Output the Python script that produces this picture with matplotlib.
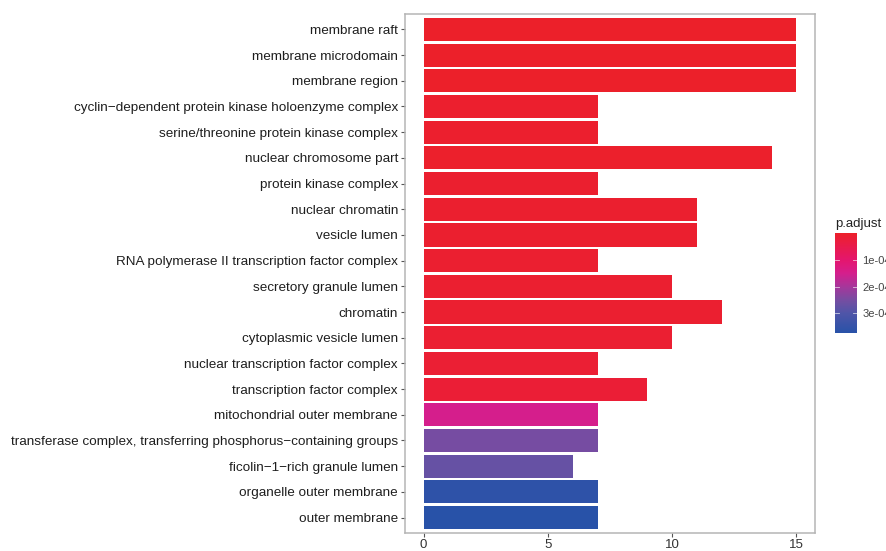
import numpy as np
import matplotlib
matplotlib.use("Agg")
import matplotlib.pyplot as plt
from matplotlib.colors import LinearSegmentedColormap, Normalize
from matplotlib.colorbar import ColorbarBase

plt.rcParams['font.family'] = ['Liberation Sans', 'DejaVu Sans']

terms = [
    "membrane raft",
    "membrane microdomain",
    "membrane region",
    "cyclin\u2212dependent protein kinase holoenzyme complex",
    "serine/threonine protein kinase complex",
    "nuclear chromosome part",
    "protein kinase complex",
    "nuclear chromatin",
    "vesicle lumen",
    "RNA polymerase II transcription factor complex",
    "secretory granule lumen",
    "chromatin",
    "cytoplasmic vesicle lumen",
    "nuclear transcription factor complex",
    "transcription factor complex",
    "mitochondrial outer membrane",
    "transferase complex, transferring phosphorus\u2212containing groups",
    "ficolin\u22121\u2212rich granule lumen",
    "organelle outer membrane",
    "outer membrane",
]
counts = [15, 15, 15, 7, 7, 14, 7, 11, 11, 7, 10, 12, 10, 7, 9, 7, 7, 6, 7, 7]
padj = [1e-6, 1e-6, 1e-6, 6e-6, 6e-6, 4e-6, 8e-6, 8e-6, 8e-6, 1e-5,
        1e-5, 1e-5, 1.2e-5, 1.5e-5, 1.8e-5, 1.5e-4, 2.5e-4, 2.7e-4, 3.6e-4, 3.72e-4]
cb_ticks = [1e-4, 2e-4, 3e-4]
cb_labels = ["1e-04", "2e-04", "3e-04"]

# red -> magenta -> purple -> blue, as it looks in the picture
grad = [(0.0, (236, 32, 42)), (0.27, (228, 22, 110)), (0.4, (213, 30, 140)),
        (0.54, (165, 55, 155)), (0.68, (115, 78, 162)), (0.8, (80, 85, 168)),
        (1.0, (40, 82, 168))]
cmap = LinearSegmentedColormap.from_list(
    "padj", [(t, tuple(v / 255 for v in c)) for t, c in grad])
norm = Normalize(vmin=0, vmax=3.73e-4)

fig = plt.figure(figsize=(8.86, 5.51), dpi=100)
ax = fig.add_axes([0.457, 0.0327, 0.463, 0.9419])

y = np.arange(len(terms))
ax.barh(y, counts, height=0.9, color=cmap(norm(np.array(padj))), edgecolor='none')
ax.set_ylim(len(terms) - 0.4, -0.6)
ax.set_xlim(-0.75, 15.75)
ax.set_yticks(y)
ax.set_yticklabels(terms, fontsize=9.7, color='#1e1e1e')
ax.set_xticks([0, 5, 10, 15])
ax.set_xticklabels(["0", "5", "10", "15"], fontsize=9.5, color='#333333')
ax.tick_params(axis='y', length=3, width=0.8, color='#555555', pad=2)
ax.tick_params(axis='x', length=3, width=0.8, color='#555555', pad=1.5)
for s in ax.spines.values():
    s.set_color('#b5b5b5')
    s.set_linewidth(1.1)

# colour bar of the legend (its labels run off the right edge, as in the source)
cax = fig.add_axes([0.9424, 0.3956, 0.0248, 0.1815])
cb = ColorbarBase(cax, cmap=cmap, norm=norm, orientation='vertical')
cax.invert_yaxis()
cb.set_ticks(cb_ticks)
cb.set_ticklabels(cb_labels)
cb.outline.set_visible(False)
cax.tick_params(length=0, labelsize=8, labelcolor='#444444', pad=4)
for t in cb_ticks:
    cax.axhline(t, xmin=0, xmax=0.2, color='white', lw=0.6, alpha=0.7)
    cax.axhline(t, xmin=0.8, xmax=1, color='white', lw=0.6, alpha=0.7)
fig.text(0.9424, 0.583, "p.adjust", fontsize=9.5, color='#222222', ha='left', va='bottom')

fig.savefig("out.png", dpi=100, facecolor='white')
